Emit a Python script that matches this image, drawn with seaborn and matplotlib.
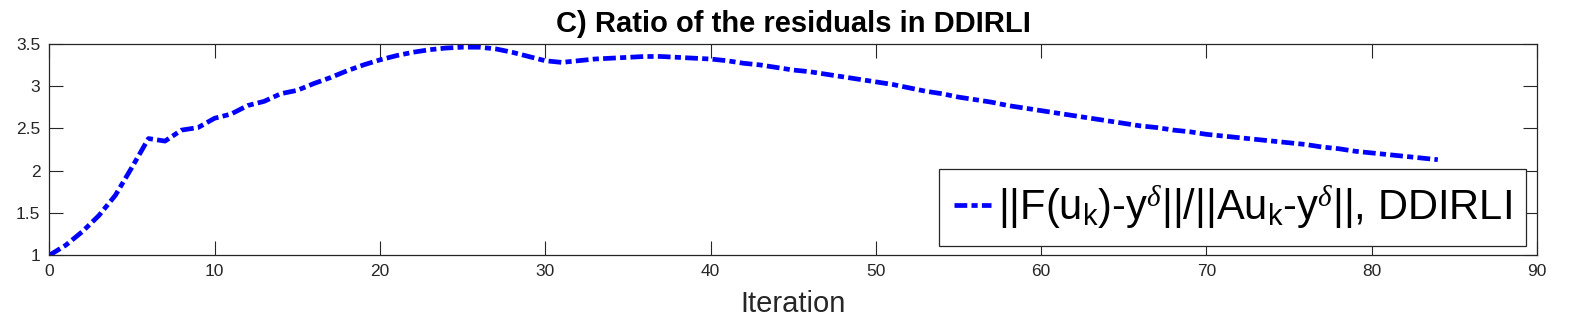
import matplotlib
matplotlib.use("Agg")
import matplotlib.pyplot as plt
import seaborn as sns
import pandas as pd

iterations = list(range(0, 85))
ratio = [1.00, 1.12, 1.28, 1.47, 1.71, 2.04, 2.38, 2.35, 2.48, 2.51,
         2.62, 2.67, 2.77, 2.82, 2.91, 2.95, 3.03, 3.10, 3.18, 3.25,
         3.31, 3.36, 3.40, 3.43, 3.45, 3.46, 3.46, 3.44, 3.40, 3.35,
         3.30, 3.28, 3.30, 3.32, 3.33, 3.34, 3.35, 3.35, 3.34, 3.33,
         3.32, 3.30, 3.27, 3.25, 3.22, 3.19, 3.17, 3.14, 3.11, 3.08,
         3.05, 3.02, 2.98, 2.94, 2.91, 2.87, 2.84, 2.81, 2.77, 2.74,
         2.71, 2.68, 2.65, 2.62, 2.59, 2.56, 2.53, 2.51, 2.48, 2.46,
         2.43, 2.41, 2.39, 2.37, 2.35, 2.33, 2.31, 2.28, 2.26, 2.23,
         2.21, 2.19, 2.17, 2.15, 2.13]
x_ticks = [0, 10, 20, 30, 40, 50, 60, 70, 80, 90]
y_ticks = [1, 1.5, 2, 2.5, 3, 3.5]
y_ticklabels = ["1", "1.5", "2", "2.5", "3", "3.5"]
title_text = "C) Ratio of the residuals in DDIRLI"
xlabel_text = "Iteration"
legend_label = r"||F(u$_\mathrm{k}$)-y$^\delta$||/||Au$_\mathrm{k}$-y$^\delta$||, DDIRLI"

sns.set_style("ticks")
plt.rcParams["font.family"] = ["Liberation Sans", "DejaVu Sans"]
plt.rcParams["mathtext.fontset"] = "custom"
plt.rcParams["mathtext.rm"] = "Liberation Sans"
plt.rcParams["mathtext.it"] = "Liberation Serif:italic"
plt.rcParams["mathtext.bf"] = "Liberation Sans:bold"

df = pd.DataFrame({"Iteration": iterations, "Ratio": ratio})

fig = plt.figure(figsize=(15.91, 3.33), dpi=100)
ax = fig.add_axes([49.3 / 1591, 1 - 255.3 / 333, (1537.0 - 49.3) / 1591, (255.3 - 43.8) / 333])

LW = 3.4
DASH = [2.7, 0.9, 1.3, 0.9]
sns.lineplot(data=df, x="Iteration", y="Ratio", ax=ax, color=(0, 0, 1),
             linewidth=LW, label=legend_label)
for ln in ax.get_lines():
    ln.set_dashes(DASH)
    ln.set_dash_capstyle("butt")

ax.set_xlim(0, 90)
ax.set_ylim(1, 3.5)
ax.set_xticks(x_ticks)
ax.set_xticklabels([str(t) for t in x_ticks])
ax.set_yticks(y_ticks)
ax.set_yticklabels(y_ticklabels)

edge = "#262626"
for sp in ax.spines.values():
    sp.set_visible(True)
    sp.set_color(edge)
    sp.set_linewidth(0.9)
ax.tick_params(direction="in", length=10, width=0.8, color=edge,
               labelcolor=edge, labelsize=12.5, top=True, right=True, pad=6.5)

ax.set_title(title_text, fontsize=21, fontweight="bold", pad=8.5, color="black")
ax.set_xlabel(xlabel_text, fontsize=21, color=edge, labelpad=7.5)
ax.set_ylabel("")

leg = ax.legend(loc="lower right", bbox_to_anchor=(0.9928, 0.0439),
                borderaxespad=0, fontsize=30, frameon=True, fancybox=False,
                edgecolor="#262626", framealpha=1, handlelength=0.9,
                handletextpad=0.15, borderpad=0.36, labelcolor="black")
leg.get_frame().set_linewidth(0.9)
for h in leg.get_lines():
    h.set_dashes(DASH)
    h.set_linewidth(LW)

fig.savefig("out.png", dpi=100)
